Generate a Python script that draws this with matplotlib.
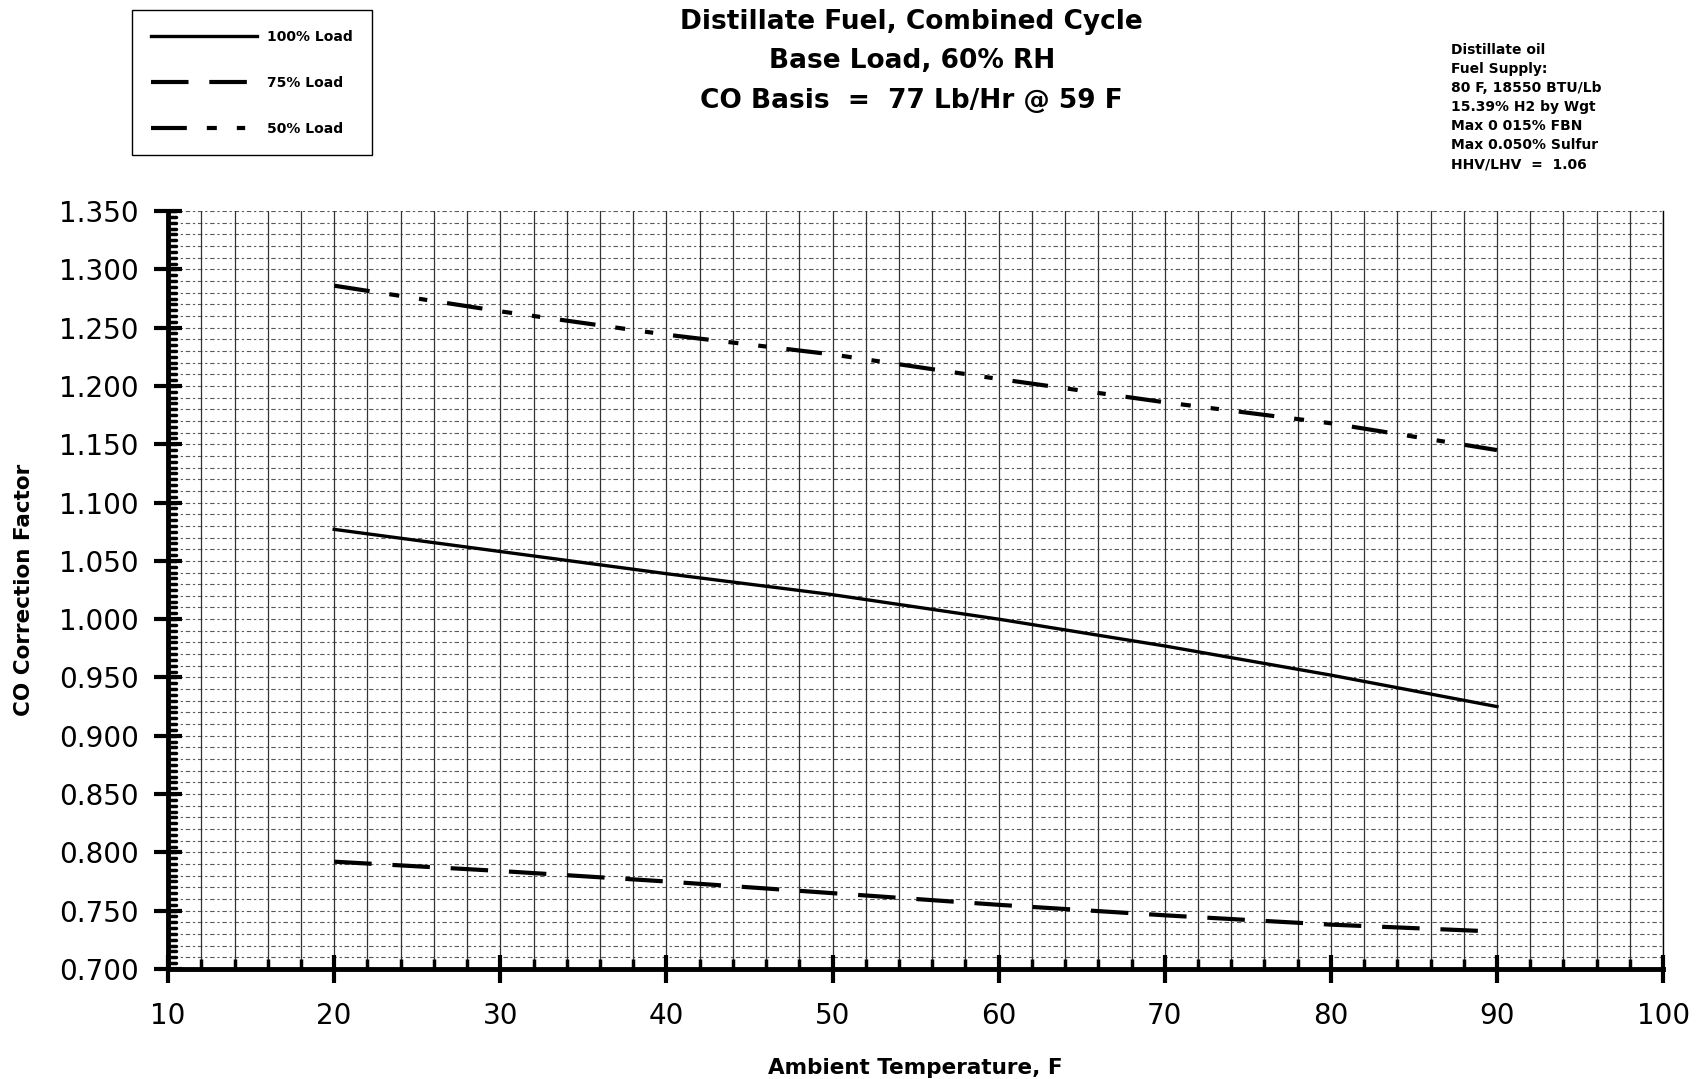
import matplotlib
matplotlib.use("Agg")
import matplotlib.pyplot as plt
import numpy as np

plt.rcParams['font.family'] = ['DejaVu Sans']

# Ambient temperature, F
temps = [20, 30, 40, 50, 60, 70, 80, 90]
# CO correction factor for each load
load_100 = [1.077, 1.058, 1.039, 1.021, 1.000, 0.977, 0.952, 0.925]
load_75 = [0.792, 0.784, 0.775, 0.765, 0.755, 0.746, 0.738, 0.732]
load_50 = [1.286, 1.264, 1.244, 1.227, 1.206, 1.186, 1.168, 1.145]

series_labels = ['100% Load', '75% Load', '50% Load']
x_ticks = list(range(10, 101, 10))
y_ticks = [0.700, 0.750, 0.800, 0.850, 0.900, 0.950, 1.000, 1.050,
           1.100, 1.150, 1.200, 1.250, 1.300, 1.350]

title_lines = ['Distillate Fuel, Combined Cycle',
               'Base Load, 60% RH',
               'CO Basis  =  77 Lb/Hr @ 59 F']
fuel_note = ['Distillate oil', 'Fuel Supply:', '80 F, 18550 BTU/Lb',
             '15.39% H2 by Wgt', 'Max 0 015% FBN', 'Max 0.050% Sulfur',
             'HHV/LHV  =  1.06']

fig = plt.figure(figsize=(17.01, 10.79), dpi=100)
ax = fig.add_axes([0.0988, 0.102, 0.8789, 0.7024])

# graph paper grid
ax.set_xlim(10, 100)
ax.set_ylim(0.700, 1.350)
ax.set_xticks(x_ticks)
ax.set_xticks(np.arange(10, 101, 2), minor=True)
ax.set_yticks(y_ticks)
ax.set_yticks(np.arange(0.700, 1.3501, 0.005), minor=True)
ax.grid(True, axis='x', which='both', color='0.2', linewidth=0.9)
for yv in np.arange(0.71, 1.3501, 0.01):
    ax.axhline(yv, color='0.35', linewidth=0.8, linestyle=(0, (2, 2.5, 4, 2.5)), zorder=0.5)

ax.plot(temps, load_100, color='black', linewidth=2.4, label=series_labels[0], zorder=3)
ax.plot(temps, load_75, color='black', linewidth=3.0, linestyle=(0, (9, 5)),
        label=series_labels[1], zorder=3)
ax.plot(temps, load_50, color='black', linewidth=3.0,
        linestyle=(0, (8.6, 4.8, 2.4, 4.8, 2.0, 4.8)), label=series_labels[2], zorder=3)

ax.set_yticklabels(['%.3f' % v for v in y_ticks])
ax.tick_params(axis='both', which='major', labelsize=20, color='black')
ax.tick_params(axis='y', which='major', direction='inout', length=20, width=3, pad=11)
ax.tick_params(axis='y', which='minor', left=False, right=False)
ax.tick_params(axis='x', which='major', direction='inout', length=20, width=3, pad=14)
ax.tick_params(axis='x', which='minor', direction='in', length=7, width=2.5)
# little marks on the right side of the y spine
for yv in np.arange(0.705, 1.3501, 0.005):
    ax.plot([10, 10.45], [yv, yv], color='black', linewidth=2.5,
            solid_capstyle='round', clip_on=False, zorder=4)

ax.spines['left'].set_linewidth(3.5)
ax.spines['bottom'].set_linewidth(3.5)
ax.spines['right'].set_linewidth(1.0)
ax.spines['top'].set_visible(False)

ax.set_xlabel('Ambient Temperature, F', fontsize=15.5, fontweight='bold', labelpad=20)
ax.set_ylabel('CO Correction Factor', fontsize=15.5, fontweight='bold', labelpad=18)

# title block
for i, line in enumerate(title_lines):
    fig.text(0.536, 0.980 - i * 0.0367, line, fontsize=19, fontweight='bold',
             ha='center', va='center')

# fuel note
fig.text(0.853, 0.960, '\n'.join(fuel_note), fontsize=10, fontweight='bold',
         ha='left', va='top', linespacing=1.46)

leg = ax.legend(loc='upper left', bbox_to_anchor=(0.0735, 0.997), bbox_transform=fig.transFigure,
                fontsize=10, handlelength=7.6, labelspacing=2.3, borderpad=1.4,
                handletextpad=0.7, fancybox=False, edgecolor='black', framealpha=1)
leg.get_frame().set_linewidth(1.0)
for t in leg.get_texts():
    t.set_fontweight('bold')

fig.savefig('out.png', dpi=100)
